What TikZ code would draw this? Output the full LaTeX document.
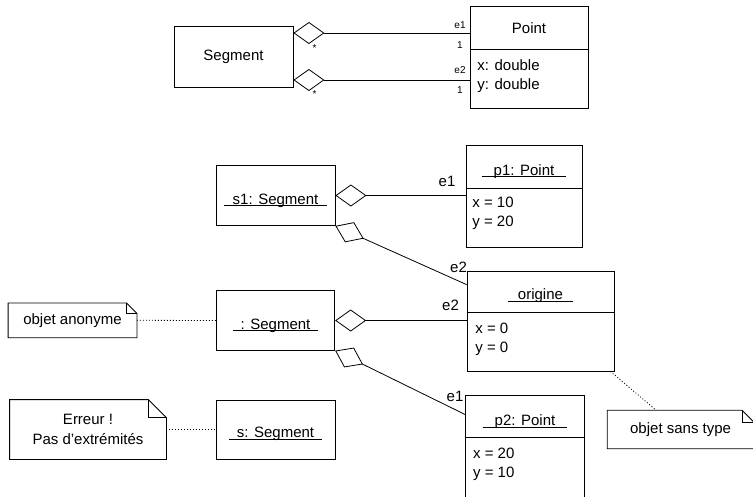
\documentclass[tikz,border=0pt]{standalone}
\usepackage{fontspec}
\setmainfont{Liberation Sans}
\usetikzlibrary{arrows.meta}
\newcommand{\uname}[2][9pt]{\underline{\smash{\hspace{#1}#2\hspace{#1}}}}
\newcommand{\notebox}[2]{%
  \draw (#1.north west) -- ([xshift=-#2]#1.north east) -- ([yshift=-#2]#1.north east) -- (#1.south east) -- (#1.south west) -- cycle;
  \draw ([xshift=-#2]#1.north east) |- ([yshift=-#2]#1.north east);}

\begin{document}
\begin{tikzpicture}[x=1pt,y=-1pt,line width=0.8pt,font=\fontsize{15}{18}\selectfont,
    box/.style={draw,inner sep=0pt},
    note/.style={inner sep=0pt},
    txt/.style={inner sep=0pt,text height=11pt,text depth=3pt},
    attr/.style={txt,anchor=west},
    small/.style={inner sep=0pt,font=\fontsize{10}{12}\selectfont},
    agg/.style={arrows={Diamond[open,length=31pt,width=22pt]-}},
    dots/.style={dash pattern=on 1pt off 2pt}]
\useasboundingbox (0,0) rectangle (753,496);
\clip (0,0) rectangle (753,496);

% class diagram
\node[box,minimum width=119pt,minimum height=61pt] (seg) at (233.5,57) {Segment};
\node[box,minimum width=118pt,minimum height=102pt] (pt) at (529,57) {};
\node[txt] (ptname) at (529,29) {Point};
\draw (pt.west |- 0,49) -- (pt.east |- 0,49);
\node[attr] (ptx) at (477,66) {x: double};
\node[attr] (pty) at (477,85) {y: double};
\draw[agg] ([yshift=24pt]seg.east) -- ([yshift=24pt]pt.west);
\draw[agg] ([yshift=-23pt]seg.east) -- ([yshift=-23pt]pt.west);
\node[small,anchor=east] (e1a) at (466,25) {e1};
\node[small] (m1a) at (460,45) {1};
\node[small,anchor=east] (e2a) at (466,70) {e2};
\node[small] (m2a) at (460,90.5) {1};
\node[small] (sa) at (314.5,48) {*};
\node[small] (sb) at (314.5,94) {*};

% object diagram
\node[box,minimum width=119pt,minimum height=60pt] (s1) at (275.5,195.5) {};
\node[txt] (s1name) at (275.5,200) {\uname{s1: Segment}};
\node[box,minimum width=116pt,minimum height=102pt] (p1) at (524,196) {};
\node[txt] (p1name) at (524,171) {\uname[12pt]{p1: Point}};
\draw (p1.west |- 0,188) -- (p1.east |- 0,188);
\node[attr] (p1x) at (472,203) {x = 10};
\node[attr] (p1y) at (472,222.5) {y = 20};

\node[box,minimum width=147pt,minimum height=100pt] (orig) at (540.5,321) {};
\node[txt] (origname) at (540.5,295.3) {\uname[10pt]{origine}};
\draw (orig.west |- 0,312.3) -- (orig.east |- 0,312.3);
\node[attr] (origx) at (475,329) {x = 0};
\node[attr] (origy) at (475,348.3) {y = 0};

\node[box,minimum width=118.5pt,minimum height=59.5pt] (anon) at (275.5,320.5) {};
\node[txt] (anonname) at (275.5,325) {\uname[8pt]{: Segment}};
\node[box,minimum width=119pt,minimum height=59pt] (s) at (275.5,429.5) {};
\node[txt] (sname) at (275.5,433.7) {\uname[8pt]{s: Segment}};

\node[box,minimum width=118.6pt,minimum height=103pt] (p2) at (525,446.5) {};
\node[txt] (p2name) at (525,421.7) {\uname[12pt]{p2: Point}};
\draw (p2.west |- 0,437.3) -- (p2.east |- 0,437.3);
\node[attr] (p2x) at (472.7,454) {x = 20};
\node[attr] (p2y) at (472.7,473.3) {y = 10};

\draw[agg] (s1.east) -- (s1.east -| p1.west);
\draw[agg] (s1.south east) -- ([yshift=-14pt]orig.north west);
\draw[agg] (anon.east) -- (anon.east -| orig.west);
\draw[agg] (anon.south east) -- ([yshift=-20pt]p2.north west);
\node[txt] (e1b) at (447,182.7) {e1};
\node[txt] (e2b) at (458.5,268) {e2};
\node[txt] (e2c) at (450.5,306.7) {e2};
\node[txt] (e1c) at (455,397.3) {e1};

% notes
\node[note,minimum width=128pt,minimum height=34pt] (nanon) at (72.5,320.3) {objet anonyme};
\notebox{nanon}{10.5pt}
\node[note,minimum width=156pt,minimum height=59pt,align=center,font=\fontsize{15}{20}\selectfont] (nerr) at (88,429.5) {Erreur !\\Pas d'extrémités};
\notebox{nerr}{18pt}
\node[note,minimum width=146pt,minimum height=37.6pt] (ntype) at (680.6,429.5) {objet sans type};
\notebox{ntype}{12pt}
\draw[dots] (nanon.east) -- (anon.west);
\draw[dots] (nerr.east) -- (s.west);
\draw[dots] ([xshift=-4pt]orig.south east) -- ([xshift=49pt]ntype.north west);
\end{tikzpicture}
\end{document}
